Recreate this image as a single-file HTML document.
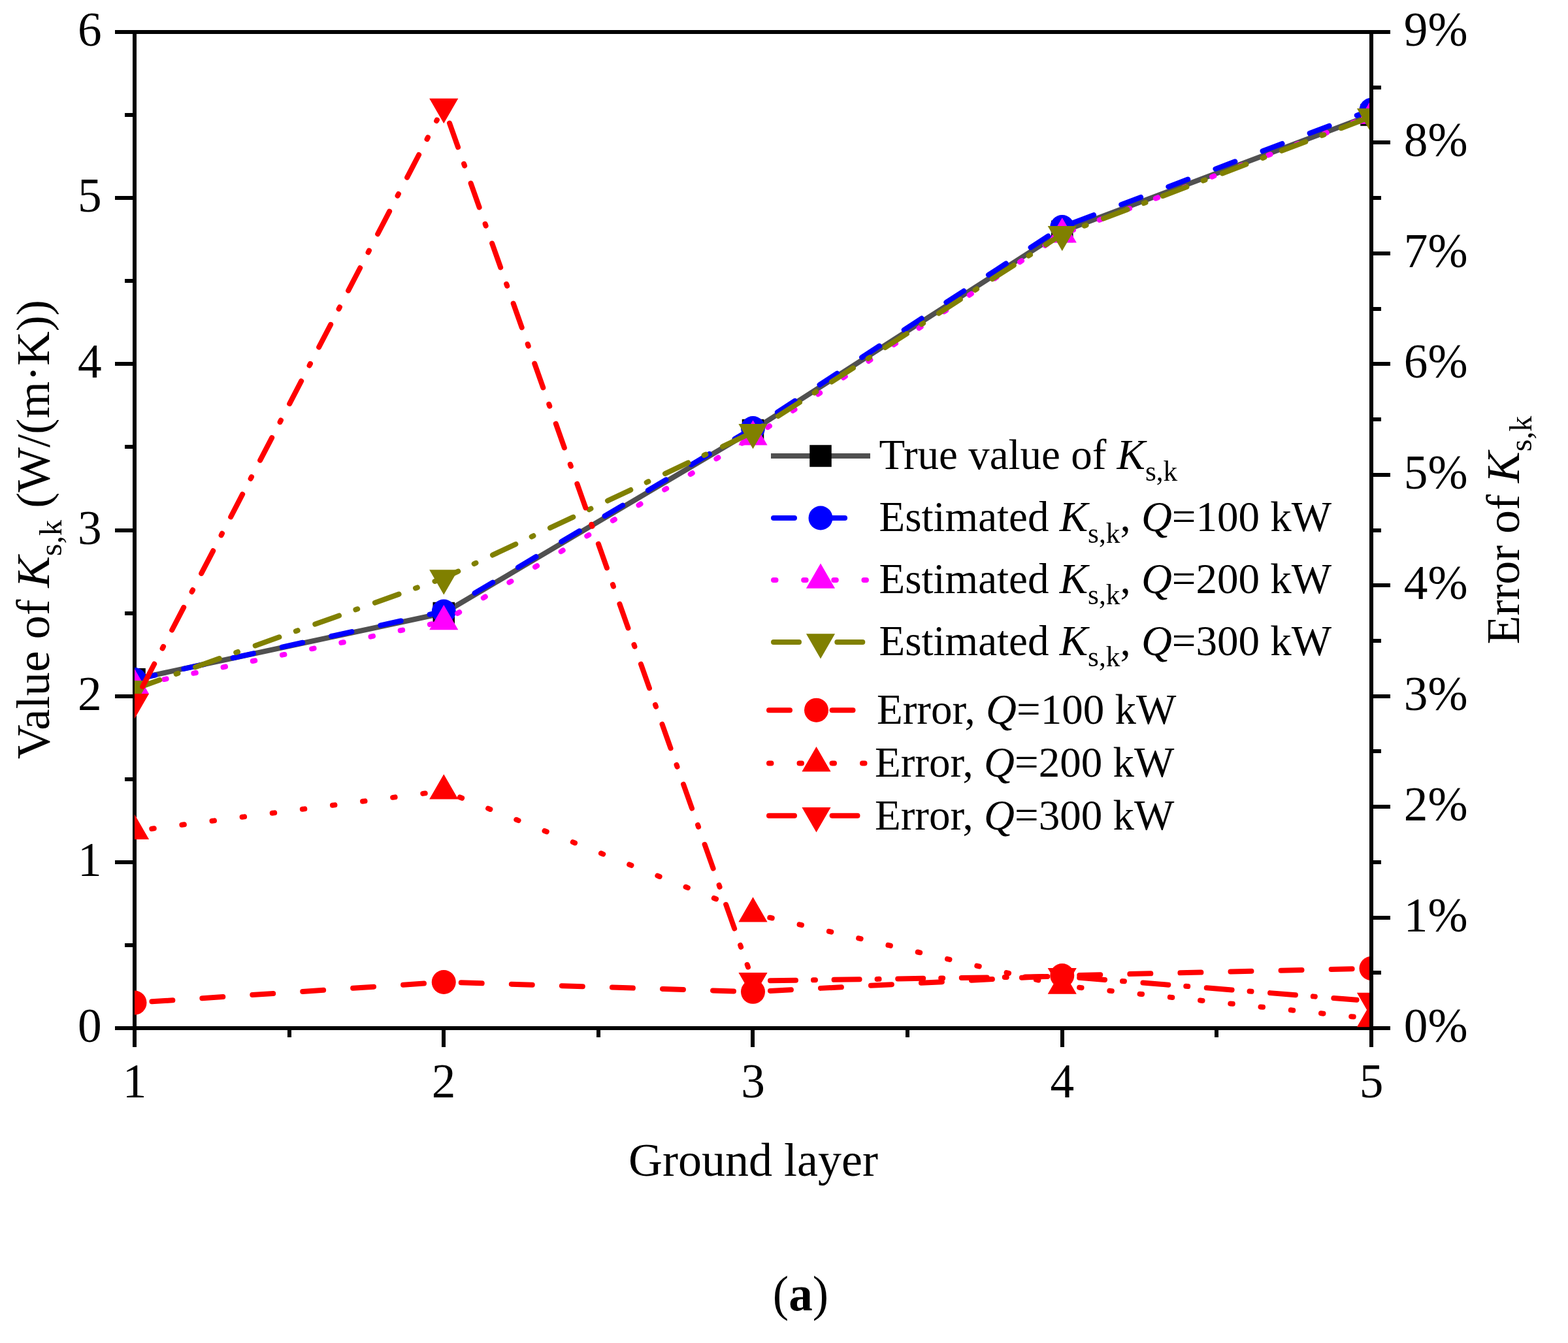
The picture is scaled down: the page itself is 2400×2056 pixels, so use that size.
<!DOCTYPE html><html><head><meta charset="utf-8"><style>html,body{margin:0;padding:0;background:#fff;overflow:hidden}svg{display:block}</style></head><body><svg width="2400" height="2056" viewBox="0 0 2400 2056">
<rect width="2400" height="2056" fill="#fff"/>
<defs><clipPath id="pc"><rect x="206" y="49" width="1890" height="1525"/></clipPath></defs>
<path d="M206 46V1577M2099 46V1577M203 49H2102M203 1574H2102M176 1574H206M176 1320H206M176 1066H206M176 812H206M176 557H206M176 303H206M176 49H206M191 1447H206M191 1193H206M191 939H206M191 684H206M191 430H206M191 176H206M2099 1574H2128M2099 1405H2128M2099 1235H2128M2099 1066H2128M2099 896H2128M2099 727H2128M2099 557H2128M2099 388H2128M2099 218H2128M2099 49H2128M2099 1489H2114M2099 1320H2114M2099 1150H2114M2099 981H2114M2099 812H2114M2099 642H2114M2099 473H2114M2099 303H2114M2099 134H2114M206 1574V1603M679 1574V1603M1152 1574V1603M1626 1574V1603M2099 1574V1603M443 1574V1588M916 1574V1588M1389 1574V1588M1862 1574V1588" stroke="#000" stroke-width="6" fill="none"/>
<g clip-path="url(#pc)">
<polyline points="206.00,1039.75 679.25,938.50 1152.50,658.50 1625.75,354.40 2099.00,176.00" fill="none" stroke="#505050" stroke-width="8" stroke-linejoin="round"/>
<rect x="189.25" y="1023.00" width="33.50" height="33.50" fill="#000"/>
<rect x="662.50" y="921.75" width="33.50" height="33.50" fill="#000"/>
<rect x="1135.75" y="641.75" width="33.50" height="33.50" fill="#000"/>
<rect x="1609.00" y="337.65" width="33.50" height="33.50" fill="#000"/>
<rect x="2082.25" y="159.25" width="33.50" height="33.50" fill="#000"/>
<polyline points="206.00,1040.50 679.25,936.00 1152.50,655.50 1625.75,347.50 2099.00,168.30" fill="none" stroke="#0000FF" stroke-width="8" stroke-linejoin="round" stroke-dasharray="32 45.1" stroke-linecap="round"/>
<circle cx="206.00" cy="1040.50" r="18.5" fill="#0000FF"/>
<circle cx="679.25" cy="936.00" r="18.5" fill="#0000FF"/>
<circle cx="1152.50" cy="655.50" r="18.5" fill="#0000FF"/>
<circle cx="1625.75" cy="347.50" r="18.5" fill="#0000FF"/>
<circle cx="2099.00" cy="168.30" r="18.5" fill="#0000FF"/>
<polyline points="206.00,1049.40 679.25,951.50 1152.50,668.80 1625.75,358.70 2099.00,177.00" fill="none" stroke="#FF00FF" stroke-width="8" stroke-linejoin="round" stroke-dasharray="3.5 42.65" stroke-linecap="round"/>
<polygon points="206.00,1023.90 228.08,1062.15 183.92,1062.15" fill="#FF00FF"/>
<polygon points="679.25,926.00 701.33,964.25 657.17,964.25" fill="#FF00FF"/>
<polygon points="1152.50,643.30 1174.58,681.55 1130.42,681.55" fill="#FF00FF"/>
<polygon points="1625.75,333.20 1647.83,371.45 1603.67,371.45" fill="#FF00FF"/>
<polygon points="2099.00,151.50 2121.08,189.75 2076.92,189.75" fill="#FF00FF"/>
<polyline points="206.00,1054.65 679.25,885.00 1152.50,661.65 1625.75,358.65 2099.00,178.65" fill="none" stroke="#808000" stroke-width="8" stroke-linejoin="round" stroke-dasharray="39 27 3 28.3" stroke-linecap="round" stroke-dashoffset="-1.6"/>
<polygon points="206.00,1080.15 228.08,1041.90 183.92,1041.90" fill="#808000"/>
<polygon points="679.25,910.50 701.33,872.25 657.17,872.25" fill="#808000"/>
<polygon points="1152.50,687.15 1174.58,648.90 1130.42,648.90" fill="#808000"/>
<polygon points="1625.75,384.15 1647.83,345.90 1603.67,345.90" fill="#808000"/>
<polygon points="2099.00,204.15 2121.08,165.90 2076.92,165.90" fill="#808000"/>
<path d="M228.45 1533.60L656.80 1505.00" stroke="#FF0000" stroke-width="8" fill="none" stroke-dasharray="32 45.1" stroke-linecap="round" stroke-dashoffset="-4"/>
<path d="M701.74 1504.20L1130.01 1517.60" stroke="#FF0000" stroke-width="8" fill="none" stroke-dasharray="32 45.1" stroke-linecap="round" stroke-dashoffset="-4"/>
<path d="M1174.97 1517.12L1603.28 1494.68" stroke="#FF0000" stroke-width="8" fill="none" stroke-dasharray="32 45.1" stroke-linecap="round" stroke-dashoffset="-4"/>
<path d="M1648.24 1492.98L2076.51 1483.02" stroke="#FF0000" stroke-width="8" fill="none" stroke-dasharray="32 45.1" stroke-linecap="round" stroke-dashoffset="-4"/>
<circle cx="206.00" cy="1535.10" r="18.5" fill="#FF0000"/>
<circle cx="679.25" cy="1503.50" r="18.5" fill="#FF0000"/>
<circle cx="1152.50" cy="1518.30" r="18.5" fill="#FF0000"/>
<circle cx="1625.75" cy="1493.50" r="18.5" fill="#FF0000"/>
<circle cx="2099.00" cy="1482.50" r="18.5" fill="#FF0000"/>
<path d="M228.31 1269.30L656.94 1213.60" stroke="#FF0000" stroke-width="8" fill="none" stroke-dasharray="3.5 43" stroke-linecap="round" stroke-dashoffset="-4"/>
<path d="M700.16 1219.01L1131.59 1390.39" stroke="#FF0000" stroke-width="8" fill="none" stroke-dasharray="3.5 43" stroke-linecap="round" stroke-dashoffset="-4"/>
<path d="M1174.41 1403.81L1603.84 1503.89" stroke="#FF0000" stroke-width="8" fill="none" stroke-dasharray="3.5 43" stroke-linecap="round" stroke-dashoffset="-4"/>
<path d="M1648.12 1511.39L2076.63 1557.11" stroke="#FF0000" stroke-width="8" fill="none" stroke-dasharray="3.5 43" stroke-linecap="round" stroke-dashoffset="-4"/>
<polygon points="206.00,1246.70 228.08,1284.95 183.92,1284.95" fill="#FF0000"/>
<polygon points="679.25,1185.20 701.33,1223.45 657.17,1223.45" fill="#FF0000"/>
<polygon points="1152.50,1373.20 1174.58,1411.45 1130.42,1411.45" fill="#FF0000"/>
<polygon points="1625.75,1483.50 1647.83,1521.75 1603.67,1521.75" fill="#FF0000"/>
<polygon points="2099.00,1534.00 2121.08,1572.25 2076.92,1572.25" fill="#FF0000"/>
<path d="M216.37 1054.68L668.88 183.57" stroke="#FF0000" stroke-width="8" fill="none" stroke-dasharray="39 27 3 28.6" stroke-linecap="round" stroke-dashoffset="-4"/>
<path d="M686.75 184.81L1145.00 1480.49" stroke="#FF0000" stroke-width="8" fill="none" stroke-dasharray="39 27 3 28.6" stroke-linecap="round" stroke-dashoffset="-4"/>
<path d="M1175.00 1501.37L1603.25 1495.03" stroke="#FF0000" stroke-width="8" fill="none" stroke-dasharray="39 27 3 28.6" stroke-linecap="round" stroke-dashoffset="-4"/>
<path d="M1648.18 1496.49L2076.57 1530.71" stroke="#FF0000" stroke-width="8" fill="none" stroke-dasharray="39 27 3 28.6" stroke-linecap="round" stroke-dashoffset="-4"/>
<polygon points="206.00,1100.15 228.08,1061.90 183.92,1061.90" fill="#FF0000"/>
<polygon points="679.25,189.10 701.33,150.85 657.17,150.85" fill="#FF0000"/>
<polygon points="1152.50,1527.20 1174.58,1488.95 1130.42,1488.95" fill="#FF0000"/>
<polygon points="1625.75,1520.20 1647.83,1481.95 1603.67,1481.95" fill="#FF0000"/>
<polygon points="2099.00,1558.00 2121.08,1519.75 2076.92,1519.75" fill="#FF0000"/>
</g>
<g font-family="Liberation Serif, Times New Roman, serif" fill="#000"><text x="155.7" y="1594.8" font-size="73.3" text-anchor="end">0</text>
<text x="155.7" y="1340.8" font-size="73.3" text-anchor="end">1</text>
<text x="155.7" y="1086.8" font-size="73.3" text-anchor="end">2</text>
<text x="155.7" y="832.8" font-size="73.3" text-anchor="end">3</text>
<text x="155.7" y="577.8" font-size="73.3" text-anchor="end">4</text>
<text x="155.7" y="323.8" font-size="73.3" text-anchor="end">5</text>
<text x="155.7" y="69.8" font-size="73.3" text-anchor="end">6</text>
<text x="2148.8" y="1594.8" font-size="73.3">0%</text>
<text x="2148.8" y="1425.8" font-size="73.3">1%</text>
<text x="2148.8" y="1255.8" font-size="73.3">2%</text>
<text x="2148.8" y="1086.8" font-size="73.3">3%</text>
<text x="2148.8" y="916.8" font-size="73.3">4%</text>
<text x="2148.8" y="747.8" font-size="73.3">5%</text>
<text x="2148.8" y="577.8" font-size="73.3">6%</text>
<text x="2148.8" y="408.8" font-size="73.3">7%</text>
<text x="2148.8" y="238.8" font-size="73.3">8%</text>
<text x="2148.8" y="69.8" font-size="73.3">9%</text>
<text x="206.0" y="1680" font-size="73.3" text-anchor="middle">1</text>
<text x="679.2" y="1680" font-size="73.3" text-anchor="middle">2</text>
<text x="1152.5" y="1680" font-size="73.3" text-anchor="middle">3</text>
<text x="1625.8" y="1680" font-size="73.3" text-anchor="middle">4</text>
<text x="2099.0" y="1680" font-size="73.3" text-anchor="middle">5</text>
<text x="1153" y="1799.5" font-size="72" text-anchor="middle">Ground layer</text>
<text transform="translate(74.8 810.5) rotate(-90)" font-size="72.7" text-anchor="middle">Value of <tspan font-style="italic">K</tspan><tspan font-size="48.5" dy="19.2">s,k</tspan><tspan dy="-19.2"> (W/(m·K))</tspan></text>
<text transform="translate(2325.1 811.5) rotate(-90)" font-size="71.8" text-anchor="middle">Error of <tspan font-style="italic">K</tspan><tspan font-size="47.9" dy="19.2">s,k</tspan></text>
<text transform="translate(1225.5 2006) scale(0.95 1)" font-size="77" text-anchor="middle">(<tspan font-weight="bold">a</tspan>)</text>
<text x="1345.5" y="718.2" font-size="65.0">True value of <tspan font-style="italic">K</tspan><tspan font-size="43.3" dy="17.6">s,k</tspan><tspan dy="-17.6"></tspan></text>
<text x="1345.5" y="813.0" font-size="65.0">Estimated <tspan font-style="italic">K</tspan><tspan font-size="43.3" dy="17.6">s,k</tspan><tspan dy="-17.6">, <tspan font-style="italic">Q</tspan>=100 kW</tspan></text>
<text x="1345.5" y="907.8" font-size="65.0">Estimated <tspan font-style="italic">K</tspan><tspan font-size="43.3" dy="17.6">s,k</tspan><tspan dy="-17.6">, <tspan font-style="italic">Q</tspan>=200 kW</tspan></text>
<text x="1345.5" y="1002.6" font-size="65.0">Estimated <tspan font-style="italic">K</tspan><tspan font-size="43.3" dy="17.6">s,k</tspan><tspan dy="-17.6">, <tspan font-style="italic">Q</tspan>=300 kW</tspan></text>
<text x="1342" y="1108.3" font-size="65.0">Error, <tspan font-style="italic">Q</tspan>=100 kW</text>
<text x="1339" y="1189.1" font-size="65.0">Error, <tspan font-style="italic">Q</tspan>=200 kW</text>
<text x="1339" y="1270.0" font-size="65.0">Error, <tspan font-style="italic">Q</tspan>=300 kW</text></g>
<path d="M1180 698H1332" stroke="#505050" stroke-width="8" fill="none"/>
<rect x="1239.25" y="681.25" width="33.50" height="33.50" fill="#000"/>
<path d="M1180 793H1332" stroke="#0000FF" stroke-width="8" fill="none" stroke-dasharray="32 45.1" stroke-linecap="round" stroke-dashoffset="-4"/>
<circle cx="1256.00" cy="793.00" r="18.5" fill="#0000FF"/>
<path d="M1180 888H1332" stroke="#FF00FF" stroke-width="8" fill="none" stroke-dasharray="3.5 42.65" stroke-linecap="round" stroke-dashoffset="-4"/>
<polygon points="1256.00,862.50 1278.08,900.75 1233.92,900.75" fill="#FF00FF"/>
<path d="M1180 983H1332" stroke="#808000" stroke-width="8" fill="none" stroke-dasharray="39 27 3 28.3" stroke-linecap="round" stroke-dashoffset="-4"/>
<polygon points="1256.00,1008.50 1278.08,970.25 1233.92,970.25" fill="#808000"/>
<path d="M1173 1087.2H1229.5" stroke="#FF0000" stroke-width="8" fill="none" stroke-dasharray="32 45.1" stroke-linecap="round" stroke-dashoffset="-4"/>
<path d="M1269.5 1087.2H1326" stroke="#FF0000" stroke-width="8" fill="none" stroke-dasharray="32 45.1" stroke-linecap="round" stroke-dashoffset="-4"/>
<circle cx="1249.50" cy="1087.20" r="18.5" fill="#FF0000"/>
<path d="M1173 1168.5H1229.5" stroke="#FF0000" stroke-width="8" fill="none" stroke-dasharray="3.5 43" stroke-linecap="round" stroke-dashoffset="-4"/>
<path d="M1269.5 1168.5H1326" stroke="#FF0000" stroke-width="8" fill="none" stroke-dasharray="3.5 43" stroke-linecap="round" stroke-dashoffset="-4"/>
<polygon points="1249.50,1143.00 1271.58,1181.25 1227.42,1181.25" fill="#FF0000"/>
<path d="M1173 1248.7H1229.5" stroke="#FF0000" stroke-width="8" fill="none" stroke-dasharray="39 27 3 28.6" stroke-linecap="round" stroke-dashoffset="-4"/>
<path d="M1269.5 1248.7H1326" stroke="#FF0000" stroke-width="8" fill="none" stroke-dasharray="39 27 3 28.6" stroke-linecap="round" stroke-dashoffset="-4"/>
<polygon points="1249.50,1274.20 1271.58,1235.95 1227.42,1235.95" fill="#FF0000"/>
</svg></body></html>
